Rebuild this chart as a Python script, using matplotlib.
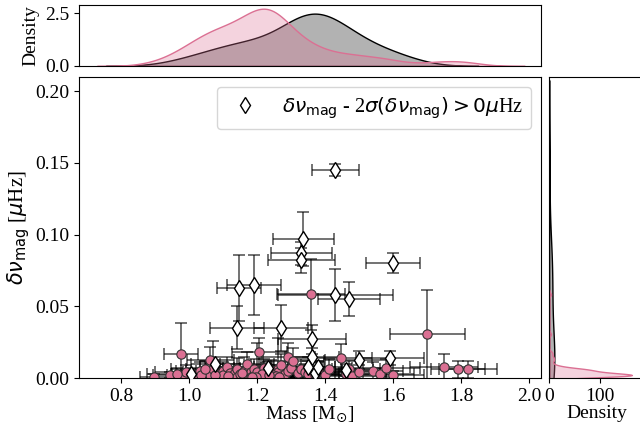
import numpy as np
import matplotlib
matplotlib.use('Agg')
import matplotlib.pyplot as plt
import seaborn as sns

plt.rcParams['font.family'] = ['Liberation Serif', 'DejaVu Sans']
plt.rcParams['mathtext.fontset'] = 'dejavusans'

# -----------------------------------
# Data: significant detections (diamonds)
# -----------------------------------
mass_sig = [1.430, 1.335, 1.330, 1.330, 1.600, 1.145, 1.190, 1.140, 1.270, 1.360,
            1.430, 1.470, 1.500, 1.590, 1.360, 1.350, 1.370, 1.460, 1.380, 1.005,
            1.075, 1.230]
dnu_sig = [0.1450, 0.0970, 0.0870, 0.0820, 0.0800, 0.0630, 0.0650, 0.0350, 0.0350, 0.0270,
           0.0580, 0.0550, 0.0125, 0.0140, 0.0146, 0.0076, 0.0035, 0.0055, 0.0080, 0.0030,
           0.0100, 0.0070]
mass_err_sig = [0.070, 0.090, 0.090, 0.100, 0.080, 0.065, 0.080, 0.080, 0.080, 0.100,
                0.170, 0.090, 0.100, 0.100, 0.080, 0.080, 0.070, 0.080, 0.070, 0.060,
                0.070, 0.080]
dnu_err_sig = [0.004, 0.019, 0.008, 0.009, 0.007, 0.023, 0.021, 0.015, 0.016, 0.010,
               0.018, 0.012, 0.006, 0.005, 0.006, 0.004, 0.003, 0.004, 0.004, 0.002,
               0.005, 0.004]

# -----------------------------------
# Data: the rest (circles)
# -----------------------------------
mass_rest = [0.895, 0.944, 0.974, 0.985, 1.010, 1.020, 1.030, 1.040, 1.050, 1.062,
             1.060, 1.070, 1.080, 1.080, 1.090, 1.100, 1.100, 1.110, 1.120, 1.120,
             1.130, 1.140, 1.140, 1.150, 1.160, 1.160, 1.170, 1.170, 1.180, 1.180,
             1.190, 1.190, 1.200, 1.200, 1.206, 1.210, 1.220, 1.220, 1.230, 1.230,
             1.230, 1.240, 1.240, 1.240, 1.250, 1.250, 1.260, 1.260, 1.260, 1.270,
             1.270, 1.280, 1.225, 1.290, 1.215, 1.290, 1.245, 1.300, 1.306, 1.255,
             1.320, 1.195, 1.330, 1.235, 1.340, 1.265, 1.350, 1.350, 1.359, 1.370,
             1.380, 1.185, 1.155, 1.400, 1.410, 1.115, 0.990, 1.075, 1.447, 1.460,
             1.470, 1.480, 1.500, 1.035, 1.540, 1.560, 1.580, 1.600, 1.045, 0.965,
             1.700, 1.750, 1.790, 1.820]
dnu_rest = [0.0010, 0.0020, 0.0167, 0.0010, 0.0030, 0.0015, 0.0050, 0.0020, 0.0040, 0.0125,
            0.0020, 0.0060, 0.0010, 0.0030, 0.0015, 0.0050, 0.0020, 0.0080, 0.0010, 0.0035,
            0.0025, 0.0060, 0.0010, 0.0030, 0.0015, 0.0050, 0.0100, 0.0020, 0.0040, 0.0010,
            0.0030, 0.0060, 0.0020, 0.0045, 0.0180, 0.0010, 0.0030, 0.0070, 0.0015, 0.0040,
            0.0025, 0.0010, 0.0055, 0.0020, 0.0035, 0.0010, 0.0060, 0.0020, 0.0040, 0.0015,
            0.0090, 0.0030, 0.0010, 0.0147, 0.0025, 0.0050, 0.0020, 0.0070, 0.0120, 0.0015,
            0.0035, 0.0010, 0.0060, 0.0020, 0.0045, 0.0010, 0.0030, 0.0080, 0.0583, 0.0020,
            0.0050, 0.0010, 0.0035, 0.0020, 0.0060, 0.0015, 0.0040, 0.0020, 0.0140, 0.0030,
            0.0060, 0.0015, 0.0040, 0.0020, 0.0050, 0.0030, 0.0070, 0.0020, 0.0060, 0.0030,
            0.0306, 0.0078, 0.0061, 0.0060]
mass_err_rest = [0.040, 0.050, 0.050, 0.045, 0.060, 0.050, 0.070, 0.060, 0.070, 0.070,
                 0.060, 0.080, 0.070, 0.060, 0.070, 0.080, 0.070, 0.080, 0.070, 0.060,
                 0.080, 0.090, 0.070, 0.080, 0.070, 0.090, 0.080, 0.070, 0.080, 0.080,
                 0.070, 0.090, 0.080, 0.090, 0.080, 0.070, 0.080, 0.090, 0.080, 0.070,
                 0.090, 0.080, 0.090, 0.080, 0.090, 0.080, 0.090, 0.080, 0.070, 0.080,
                 0.090, 0.080, 0.090, 0.080, 0.080, 0.090, 0.080, 0.090, 0.090, 0.080,
                 0.090, 0.080, 0.090, 0.080, 0.090, 0.080, 0.090, 0.080, 0.100, 0.090,
                 0.090, 0.080, 0.090, 0.090, 0.100, 0.090, 0.090, 0.100, 0.090, 0.100,
                 0.090, 0.100, 0.100, 0.100, 0.090, 0.100, 0.100, 0.090, 0.100, 0.090,
                 0.110, 0.100, 0.080, 0.085]
dnu_err_rest = [0.0015, 0.0020, 0.0220, 0.0020, 0.0040, 0.0030, 0.0060, 0.0030, 0.0080, 0.0090,
                0.0030, 0.0200, 0.0020, 0.0050, 0.0030, 0.0060, 0.0030, 0.0070, 0.0020, 0.0040,
                0.0030, 0.0080, 0.0020, 0.0040, 0.0030, 0.0100, 0.0080, 0.0030, 0.0050, 0.0020,
                0.0040, 0.0070, 0.0030, 0.0200, 0.0100, 0.0020, 0.0040, 0.0060, 0.0020, 0.0050,
                0.0030, 0.0020, 0.0070, 0.0030, 0.0040, 0.0020, 0.0220, 0.0030, 0.0050, 0.0020,
                0.0080, 0.0040, 0.0020, 0.0100, 0.0030, 0.0060, 0.0030, 0.0070, 0.0090, 0.0020,
                0.0040, 0.0020, 0.0070, 0.0030, 0.0050, 0.0020, 0.0040, 0.0070, 0.0250, 0.0030,
                0.0060, 0.0020, 0.0040, 0.0030, 0.0070, 0.0020, 0.0050, 0.0030, 0.0100, 0.0040,
                0.0060, 0.0020, 0.0050, 0.0030, 0.0060, 0.0040, 0.0060, 0.0030, 0.0060, 0.0040,
                0.0310, 0.0090, 0.0060, 0.0060]

pink = 'palevioletred'
label_sig = r'$\delta\nu_{\rm mag}$ - 2$\sigma(\delta\nu_{\rm mag}) > 0\mu$Hz'

# -----------------------------------
# Layout
# -----------------------------------
fig = plt.figure(figsize=(6.4, 4.34), dpi=100)
ax = fig.add_axes([0.1234, 0.129, 0.7219, 0.6936])
ax_top = fig.add_axes([0.1234, 0.848, 0.7219, 0.1405], sharex=ax)
ax_right = fig.add_axes([0.858, 0.129, 0.15, 0.6936], sharey=ax)

# -----------------------------------
# Main scatter with error bars
# -----------------------------------
ax.errorbar(mass_rest, dnu_rest, xerr=mass_err_rest, yerr=dnu_err_rest, fmt='none',
            ecolor='k', alpha=0.7, capsize=4, elinewidth=1.1, capthick=1.1, zorder=1)
ax.errorbar(mass_sig, dnu_sig, xerr=mass_err_sig, yerr=dnu_err_sig, fmt='none',
            ecolor='k', alpha=0.7, capsize=4, elinewidth=1.1, capthick=1.1, zorder=1)
ax.scatter(mass_rest, dnu_rest, s=45, color=pink, edgecolor='#333333', linewidth=0.8, zorder=2)
ax.plot(mass_sig, dnu_sig, 'd', ms=8, mfc='white', mec='k', mew=1.0, ls='none',
        label=label_sig, zorder=3)

ax.set_xlim(0.675, 2.035)
ax.set_ylim(0, 0.21)
ax.set_xticks([0.8, 1.0, 1.2, 1.4, 1.6, 1.8, 2.0])
ax.set_yticks([0.0, 0.05, 0.10, 0.15, 0.20])
ax.tick_params(labelsize=14)
ax.set_xlabel(r'Mass [M$_{\odot}$]', fontsize=14, labelpad=0)
ax.set_ylabel(r'$\delta\nu_{\rm mag}$ [$\mu$Hz]', fontsize=15, labelpad=2)
ax.legend(loc='upper right', fontsize=14.5, handletextpad=0.8)

# -----------------------------------
# Marginal KDEs
# -----------------------------------
sns.kdeplot(x=mass_sig, ax=ax_top, fill=True, color='k', alpha=0.3, linewidth=1.0)
sns.kdeplot(x=mass_rest, ax=ax_top, fill=True, color=pink, alpha=0.3, linewidth=1.0,
            bw_adjust=0.75)
ax_top.set_ylim(0, 2.9)
ax_top.set_yticks([0.0, 2.5])
ax_top.set_ylabel('Density', fontsize=14)
ax_top.set_xlabel('')
ax_top.tick_params(axis='x', bottom=False, labelbottom=False)
ax_top.tick_params(axis='y', labelsize=14)

sns.kdeplot(y=dnu_sig, ax=ax_right, fill=True, color='k', alpha=0.3, linewidth=1.0)
sns.kdeplot(y=dnu_rest, ax=ax_right, fill=True, color=pink, alpha=0.3, linewidth=1.0,
            bw_adjust=0.4)
ax_right.set_xlim(0, 190)
ax_right.set_xticks([0, 100])
ax_right.set_xlabel('Density', fontsize=14, labelpad=0)
ax_right.set_ylabel('')
ax_right.tick_params(axis='y', left=False, labelleft=False)
ax_right.tick_params(axis='x', labelsize=14)
ax.set_ylim(0, 0.21)

fig.savefig('out.png', dpi=100)
